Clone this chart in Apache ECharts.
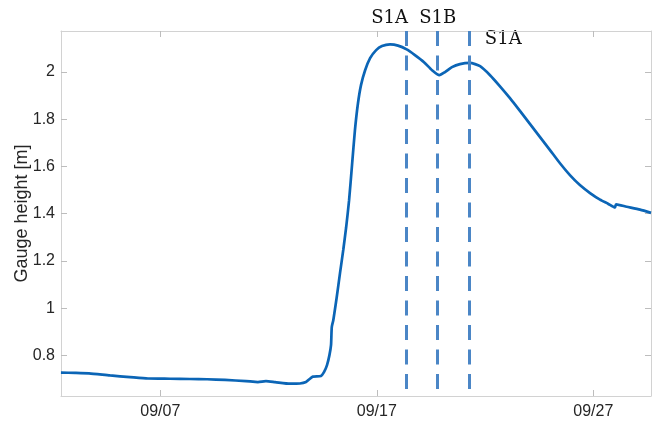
<!DOCTYPE html>
<html>
<head>
<meta charset="utf-8">
<title>Gauge height</title>
<script src="https://cdn.jsdelivr.net/npm/echarts@6/dist/echarts.min.js"></script>
<style>
  html, body { margin: 0; padding: 0; background: #fff; }
  #chart { width: 666px; height: 425px; }
</style>
</head>
<body>
<div id="chart"></div>
<script>
// Time in fractional day of September, gauge height in metres
const dayOfSep = [
  2.41, 3.06, 3.71, 4.68, 5.60, 6.43, 7.45, 8.37, 9.16, 9.99,
  10.96, 11.51, 11.88, 12.30, 12.99, 13.45, 13.73, 13.87, 14.05, 14.42,
  14.56, 14.70, 14.81, 14.885, 14.92, 14.99, 15.15, 15.30, 15.45, 15.58,
  15.72, 15.855, 15.99, 16.13, 16.27, 16.46, 16.69, 16.97, 17.24, 17.61,
  17.98, 18.38, 18.76, 19.18, 19.55, 19.89, 20.15, 20.47, 20.84, 21.30,
  21.77, 22.23, 22.69, 23.15, 23.62, 24.08, 24.54, 25.00, 25.47, 25.92,
  26.38, 26.85, 27.31, 27.68, 28.00, 28.05, 28.54, 29.16, 29.665
];
const gaugeHeight = [
  0.727, 0.726, 0.724, 0.715, 0.708, 0.702, 0.701, 0.700, 0.699, 0.696,
  0.691, 0.687, 0.691, 0.687, 0.680, 0.681, 0.687, 0.698, 0.710, 0.713,
  0.729, 0.759, 0.800, 0.843, 0.920, 0.949, 1.047, 1.148, 1.246, 1.339,
  1.457, 1.605, 1.753, 1.867, 1.944, 2.007, 2.058, 2.092, 2.109, 2.116,
  2.111, 2.095, 2.071, 2.041, 2.007, 1.986, 1.999, 2.020, 2.033, 2.038,
  2.024, 1.986, 1.939, 1.889, 1.834, 1.779, 1.724, 1.669, 1.612, 1.563,
  1.521, 1.487, 1.459, 1.442, 1.426, 1.439, 1.429, 1.417, 1.403
];

// Satellite passes (day of September) and their names
const passDays = [18.38, 19.81, 21.27];
const passNames = ['S1A', 'S1B', 'S1A'];

// Axis ticks
const xTicks = [7, 17, 27];
const xTickLabels = ['09/07', '09/17', '09/27'];
const yTicks = [0.8, 1, 1.2, 1.4, 1.6, 1.8, 2];

const X_MIN = 2.413, X_MAX = 29.665;
const Y_MIN = 0.628, Y_MAX = 2.173;

const AXIS_GREY = '#d2d2d2';
const TICK_GREY = '#bdbdbd';
const TEXT = '#262626';
const LINE_BLUE = '#0b65b6';
const PASS_BLUE = '#4b86c6';

const chart = echarts.init(document.getElementById('chart'), null, { renderer: 'canvas' });

const series = [{
  type: 'line',
  data: dayOfSep.map((d, i) => [d, gaugeHeight[i]]),
  showSymbol: false,
  smooth: 0.2,
  lineStyle: { color: LINE_BLUE, width: 2.7 },
  itemStyle: { color: LINE_BLUE },
  silent: true,
  z: 3,
  markLine: {
    silent: true,
    symbol: 'none',
    animation: false,
    label: { show: false },
    lineStyle: { color: PASS_BLUE, width: 3, type: [15, 9.5] },
    data: passDays.map(d => [{ coord: [d, Y_MAX] }, { coord: [d, Y_MIN] }])
  }
}];

function xAxisDef(pos, showLabels) {
  return {
    type: 'value',
    position: pos,
    min: X_MIN,
    max: X_MAX,
    axisLine: { show: true, onZero: false, lineStyle: { color: AXIS_GREY, width: 1 } },
    axisTick: { show: true, inside: true, length: 6, customValues: xTicks, lineStyle: { color: TICK_GREY } },
    axisLabel: {
      show: showLabels,
      customValues: xTicks,
      formatter: v => xTickLabels[xTicks.indexOf(Math.round(v))] || '',
      color: TEXT,
      fontFamily: 'Liberation Sans',
      fontSize: 16,
      margin: 8
    },
    splitLine: { show: false }
  };
}

function yAxisDef(pos, showLabels) {
  return {
    type: 'value',
    position: pos,
    min: Y_MIN,
    max: Y_MAX,
    name: showLabels ? 'Gauge height [m]' : '',
    nameLocation: 'middle',
    nameGap: 30,
    nameMoveOverlap: false,
    nameTextStyle: { color: TEXT, fontFamily: 'Liberation Sans', fontSize: 18 },
    axisLine: { show: true, onZero: false, lineStyle: { color: AXIS_GREY, width: 1 } },
    axisTick: { show: true, inside: true, length: 6, customValues: yTicks, lineStyle: { color: TICK_GREY } },
    axisLabel: {
      show: showLabels,
      customValues: yTicks,
      formatter: v => String(Math.round(v * 10) / 10),
      color: TEXT,
      fontFamily: 'Liberation Sans',
      fontSize: 16,
      margin: 6
    },
    splitLine: { show: false }
  };
}

chart.setOption({
  animation: false,
  backgroundColor: '#ffffff',
  grid: { left: 61, right: 15, top: 31, bottom: 29, containLabel: false },
  xAxis: [xAxisDef('bottom', true), xAxisDef('top', false)],
  yAxis: [yAxisDef('left', true), yAxisDef('right', false)],
  series: series
});

// Pass names written next to the dashed lines
const labelShift = [[-17, 18], [0, 18], [34, 39]];
const graphics = passDays.map((d, i) => {
  const px = chart.convertToPixel({ xAxisIndex: 0 }, d);
  return {
    type: 'text',
    x: px + labelShift[i][0],
    y: labelShift[i][1],
    style: {
      text: passNames[i],
      fill: '#111111',
      font: '18px "DejaVu Serif"',
      textAlign: 'center',
      textVerticalAlign: 'middle'
    },
    silent: true
  };
});
chart.setOption({ graphic: graphics });
</script>
</body>
</html>
